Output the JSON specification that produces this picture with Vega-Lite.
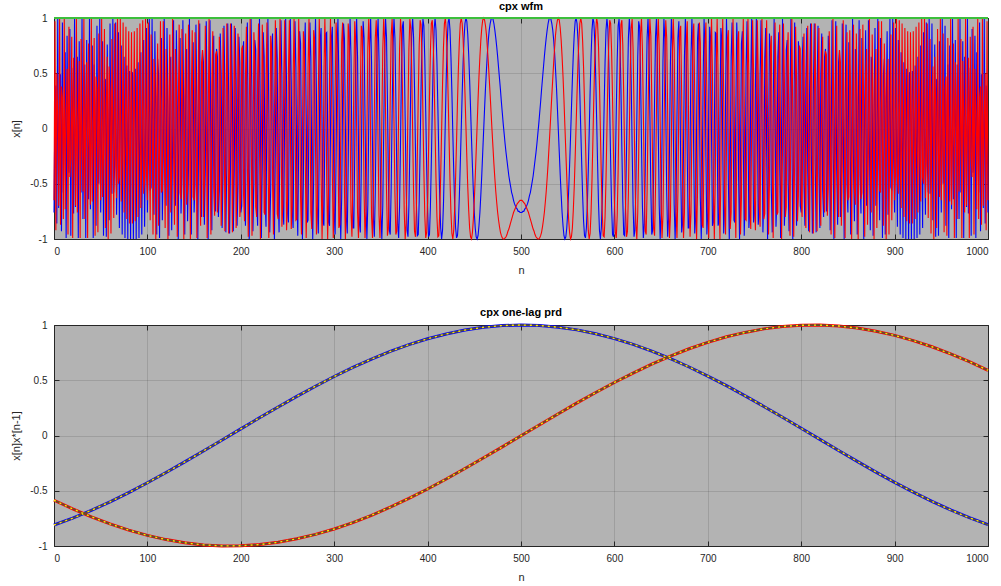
{
"$schema": "https://vega.github.io/schema/vega-lite/v6.json",
"background": "#ffffff",
"padding": {"left": 10, "right": 12, "top": 0, "bottom": 2},
"spacing": 30,
"config": {
  "view": {"fill": "#b3b3b3", "stroke": "#262626", "strokeWidth": 1},
  "font": "Liberation Sans",
  "axis": {"labelFont": "Liberation Sans", "labelFontSize": 10, "labelColor": "#262626", "titleFont": "Liberation Sans", "titleFontSize": 11, "titleFontWeight": "normal", "titleColor": "#262626", "tickColor": "#262626", "tickSize": -5, "labelPadding": 12, "titlePadding": 8, "domain": false, "gridColor": "#262626", "gridOpacity": 0.15, "gridWidth": 1},
  "title": {"font": "Liberation Sans", "fontSize": 11, "fontWeight": "bold", "color": "#000000", "offset": 1}
},
"datasets": {
"wfm": [
{"n":0,"re":-0.76,"im":-0.65},{"n":1,"re":0.23,"im":0.97},{"n":2,"re":0.39,"im":-0.92},{"n":3,"re":-0.86,"im":0.5},{"n":4,"re":0.99,"im":0.12},{"n":5,"re":-0.72,"im":-0.7},{"n":6,"re":0.15,"im":0.99},{"n":7,"re":0.49,"im":-0.87},{"n":8,"re":-0.93,"im":0.38},{"n":9,"re":0.96,"im":0.28},
{"n":10,"re":-0.58,"im":-0.82},{"n":11,"re":-0.07,"im":1},{"n":12,"re":0.69,"im":-0.73},{"n":13,"re":-0.99,"im":0.13},{"n":14,"re":0.84,"im":0.54},{"n":15,"re":-0.29,"im":-0.96},{"n":16,"re":-0.4,"im":0.92},{"n":17,"re":0.9,"im":-0.44},{"n":18,"re":-0.97,"im":-0.26},{"n":19,"re":0.55,"im":0.83},
{"n":20,"re":0.14,"im":-0.99},{"n":21,"re":-0.77,"im":0.64},{"n":22,"re":1,"im":0.04},{"n":23,"re":-0.71,"im":-0.7},{"n":24,"re":0.05,"im":1},{"n":25,"re":0.65,"im":-0.76},{"n":26,"re":-0.99,"im":0.11},{"n":27,"re":0.79,"im":0.61},{"n":28,"re":-0.15,"im":-0.99},{"n":29,"re":-0.58,"im":0.81},
{"n":30,"re":0.99,"im":-0.17},{"n":31,"re":-0.82,"im":-0.57},{"n":32,"re":0.17,"im":0.99},{"n":33,"re":0.58,"im":-0.82},{"n":34,"re":-0.99,"im":0.16},{"n":35,"re":0.8,"im":0.6},{"n":36,"re":-0.12,"im":-0.99},{"n":37,"re":-0.64,"im":0.77},{"n":38,"re":1,"im":-0.06},{"n":39,"re":-0.73,"im":-0.69},
{"n":40,"re":-0.02,"im":1},{"n":41,"re":0.75,"im":-0.66},{"n":42,"re":-0.99,"im":-0.11},{"n":43,"re":0.58,"im":0.82},{"n":44,"re":0.23,"im":-0.97},{"n":45,"re":-0.88,"im":0.47},{"n":46,"re":0.93,"im":0.36},{"n":47,"re":-0.33,"im":-0.94},{"n":48,"re":-0.5,"im":0.86},{"n":49,"re":0.99,"im":-0.17},
{"n":50,"re":-0.76,"im":-0.65},{"n":51,"re":-0.02,"im":1},{"n":52,"re":0.79,"im":-0.62},{"n":53,"re":-0.97,"im":-0.23},{"n":54,"re":0.43,"im":0.9},{"n":55,"re":0.44,"im":-0.9},{"n":56,"re":-0.98,"im":0.21},{"n":57,"re":0.76,"im":0.65},{"n":58,"re":0.05,"im":-1},{"n":59,"re":-0.83,"im":0.56},
{"n":60,"re":0.95,"im":0.32},{"n":61,"re":-0.3,"im":-0.95},{"n":62,"re":-0.59,"im":0.81},{"n":63,"re":1,"im":0},{"n":64,"re":-0.58,"im":-0.81},{"n":65,"re":-0.32,"im":0.95},{"n":66,"re":0.96,"im":-0.28},{"n":67,"re":-0.78,"im":-0.63},{"n":68,"re":-0.08,"im":1},{"n":69,"re":0.87,"im":-0.5},
{"n":70,"re":-0.9,"im":-0.44},{"n":71,"re":0.13,"im":0.99},{"n":72,"re":0.75,"im":-0.66},{"n":73,"re":-0.96,"im":-0.27},{"n":74,"re":0.29,"im":0.96},{"n":75,"re":0.65,"im":-0.76},{"n":76,"re":-0.99,"im":-0.14},{"n":77,"re":0.4,"im":0.92},{"n":78,"re":0.57,"im":-0.82},{"n":79,"re":-1,"im":-0.06},
{"n":80,"re":0.47,"im":0.88},{"n":81,"re":0.52,"im":-0.86},{"n":82,"re":-1,"im":-0.01},{"n":83,"re":0.49,"im":0.87},{"n":84,"re":0.51,"im":-0.86},{"n":85,"re":-1,"im":-0.02},{"n":86,"re":0.48,"im":0.88},{"n":87,"re":0.54,"im":-0.84},{"n":88,"re":-1,"im":-0.06},{"n":89,"re":0.42,"im":0.91},
{"n":90,"re":0.6,"im":-0.8},{"n":91,"re":-0.99,"im":-0.16},{"n":92,"re":0.32,"im":0.95},{"n":93,"re":0.69,"im":-0.72},{"n":94,"re":-0.96,"im":-0.29},{"n":95,"re":0.17,"im":0.98},{"n":96,"re":0.8,"im":-0.59},{"n":97,"re":-0.89,"im":-0.46},{"n":98,"re":-0.03,"im":1},{"n":99,"re":0.91,"im":-0.41},
{"n":100,"re":-0.76,"im":-0.65},{"n":101,"re":-0.27,"im":0.96},{"n":102,"re":0.99,"im":-0.16},{"n":103,"re":-0.56,"im":-0.83},{"n":104,"re":-0.53,"im":0.85},{"n":105,"re":0.99,"im":0.14},{"n":106,"re":-0.27,"im":-0.96},{"n":107,"re":-0.78,"im":0.63},{"n":108,"re":0.88,"im":0.47},{"n":109,"re":0.09,"im":-1},
{"n":110,"re":-0.96,"im":0.29},{"n":111,"re":0.63,"im":0.77},{"n":112,"re":0.48,"im":-0.88},{"n":113,"re":-0.99,"im":-0.13},{"n":114,"re":0.24,"im":0.97},{"n":115,"re":0.82,"im":-0.58},{"n":116,"re":-0.83,"im":-0.56},{"n":117,"re":-0.24,"im":0.97},{"n":118,"re":0.99,"im":-0.11},{"n":119,"re":-0.44,"im":-0.9},
{"n":120,"re":-0.7,"im":0.72},{"n":121,"re":0.91,"im":0.42},{"n":122,"re":0.1,"im":-1},{"n":123,"re":-0.97,"im":0.22},{"n":124,"re":0.52,"im":0.85},{"n":125,"re":0.65,"im":-0.76},{"n":126,"re":-0.92,"im":-0.39},{"n":127,"re":-0.09,"im":1},{"n":128,"re":0.98,"im":-0.21},{"n":129,"re":-0.49,"im":-0.87},
{"n":130,"re":-0.7,"im":0.72},{"n":131,"re":0.89,"im":0.47},{"n":132,"re":0.2,"im":-0.98},{"n":133,"re":-1,"im":0.08},{"n":134,"re":0.34,"im":0.94},{"n":135,"re":0.82,"im":-0.58},{"n":136,"re":-0.77,"im":-0.64},{"n":137,"re":-0.43,"im":0.9},{"n":138,"re":0.98,"im":0.19},{"n":139,"re":-0.06,"im":-1},
{"n":140,"re":-0.96,"im":0.29},{"n":141,"re":0.51,"im":0.86},{"n":142,"re":0.72,"im":-0.69},{"n":143,"re":-0.84,"im":-0.55},{"n":144,"re":-0.35,"im":0.94},{"n":145,"re":0.99,"im":0.14},{"n":146,"re":-0.07,"im":-1},{"n":147,"re":-0.96,"im":0.27},{"n":148,"re":0.46,"im":0.89},{"n":149,"re":0.78,"im":-0.62},
{"n":150,"re":-0.76,"im":-0.65},{"n":151,"re":-0.5,"im":0.87},{"n":152,"re":0.94,"im":0.33},{"n":153,"re":0.16,"im":-0.99},{"n":154,"re":-1,"im":0.01},{"n":155,"re":0.17,"im":0.98},{"n":156,"re":0.95,"im":-0.33},{"n":157,"re":-0.47,"im":-0.88},{"n":158,"re":-0.8,"im":0.6},{"n":159,"re":0.71,"im":0.71},
{"n":160,"re":0.6,"im":-0.8},{"n":161,"re":-0.87,"im":-0.49},{"n":162,"re":-0.37,"im":0.93},{"n":163,"re":0.97,"im":0.25},{"n":164,"re":0.13,"im":-0.99},{"n":165,"re":-1,"im":-0.02},{"n":166,"re":0.1,"im":1},{"n":167,"re":0.98,"im":-0.2},{"n":168,"re":-0.3,"im":-0.96},{"n":169,"re":-0.92,"im":0.39},
{"n":170,"re":0.47,"im":0.88},{"n":171,"re":0.84,"im":-0.54},{"n":172,"re":-0.61,"im":-0.79},{"n":173,"re":-0.75,"im":0.67},{"n":174,"re":0.72,"im":0.7},{"n":175,"re":0.65,"im":-0.76},{"n":176,"re":-0.8,"im":-0.6},{"n":177,"re":-0.56,"im":0.83},{"n":178,"re":0.86,"im":0.52},{"n":179,"re":0.48,"im":-0.88},
{"n":180,"re":-0.9,"im":-0.44},{"n":181,"re":-0.41,"im":0.91},{"n":182,"re":0.93,"im":0.38},{"n":183,"re":0.36,"im":-0.93},{"n":184,"re":-0.94,"im":-0.34},{"n":185,"re":-0.32,"im":0.95},{"n":186,"re":0.95,"im":0.31},{"n":187,"re":0.31,"im":-0.95},{"n":188,"re":-0.95,"im":-0.31},{"n":189,"re":-0.31,"im":0.95},
{"n":190,"re":0.95,"im":0.32},{"n":191,"re":0.34,"im":-0.94},{"n":192,"re":-0.93,"im":-0.36},{"n":193,"re":-0.38,"im":0.93},{"n":194,"re":0.91,"im":0.41},{"n":195,"re":0.44,"im":-0.9},{"n":196,"re":-0.88,"im":-0.48},{"n":197,"re":-0.52,"im":0.86},{"n":198,"re":0.83,"im":0.56},{"n":199,"re":0.6,"im":-0.8},
{"n":200,"re":-0.76,"im":-0.65},{"n":201,"re":-0.7,"im":0.72},{"n":202,"re":0.67,"im":0.75},{"n":203,"re":0.79,"im":-0.61},{"n":204,"re":-0.54,"im":-0.84},{"n":205,"re":-0.88,"im":0.47},{"n":206,"re":0.39,"im":0.92},{"n":207,"re":0.96,"im":-0.3},{"n":208,"re":-0.2,"im":-0.98},{"n":209,"re":-1,"im":0.1},
{"n":210,"re":-0.02,"im":1},{"n":211,"re":0.99,"im":0.13},{"n":212,"re":0.25,"im":-0.97},{"n":213,"re":-0.93,"im":-0.37},{"n":214,"re":-0.49,"im":0.87},{"n":215,"re":0.8,"im":0.6},{"n":216,"re":0.71,"im":-0.71},{"n":217,"re":-0.6,"im":-0.8},{"n":218,"re":-0.88,"im":0.47},{"n":219,"re":0.33,"im":0.95},
{"n":220,"re":0.99,"im":-0.17},{"n":221,"re":-0.01,"im":-1},{"n":222,"re":-0.99,"im":-0.16},{"n":223,"re":-0.33,"im":0.94},{"n":224,"re":0.87,"im":0.5},{"n":225,"re":0.65,"im":-0.76},{"n":226,"re":-0.62,"im":-0.78},{"n":227,"re":-0.89,"im":0.46},{"n":228,"re":0.27,"im":0.96},{"n":229,"re":1,"im":-0.07},
{"n":230,"re":0.14,"im":-0.99},{"n":231,"re":-0.94,"im":-0.35},{"n":232,"re":-0.55,"im":0.84},{"n":233,"re":0.69,"im":0.72},{"n":234,"re":0.86,"im":-0.51},{"n":235,"re":-0.29,"im":-0.96},{"n":236,"re":-1,"im":0.06},{"n":237,"re":-0.19,"im":0.98},{"n":238,"re":0.91,"im":0.43},{"n":239,"re":0.64,"im":-0.77},
{"n":240,"re":-0.58,"im":-0.82},{"n":241,"re":-0.94,"im":0.34},{"n":242,"re":0.08,"im":1},{"n":243,"re":0.98,"im":0.2},{"n":244,"re":0.47,"im":-0.89},{"n":245,"re":-0.72,"im":-0.7},{"n":246,"re":-0.87,"im":0.49},{"n":247,"re":0.21,"im":0.98},{"n":248,"re":1,"im":0.09},{"n":249,"re":0.39,"im":-0.92},
{"n":250,"re":-0.76,"im":-0.65},{"n":251,"re":-0.85,"im":0.52},{"n":252,"re":0.22,"im":0.98},{"n":253,"re":1,"im":0.1},{"n":254,"re":0.42,"im":-0.91},{"n":255,"re":-0.72,"im":-0.7},{"n":256,"re":-0.9,"im":0.44},{"n":257,"re":0.11,"im":0.99},{"n":258,"re":0.97,"im":0.24},{"n":259,"re":0.56,"im":-0.83},
{"n":260,"re":-0.58,"im":-0.82},{"n":261,"re":-0.97,"im":0.24},{"n":262,"re":-0.13,"im":0.99},{"n":263,"re":0.88,"im":0.48},{"n":264,"re":0.77,"im":-0.63},{"n":265,"re":-0.29,"im":-0.96},{"n":266,"re":-1,"im":-0.09},{"n":267,"re":-0.47,"im":0.88},{"n":268,"re":0.63,"im":0.78},{"n":269,"re":0.96,"im":-0.27},
{"n":270,"re":0.14,"im":-0.99},{"n":271,"re":-0.85,"im":-0.53},{"n":272,"re":-0.83,"im":0.56},{"n":273,"re":0.16,"im":0.99},{"n":274,"re":0.96,"im":0.27},{"n":275,"re":0.65,"im":-0.76},{"n":276,"re":-0.41,"im":-0.91},{"n":277,"re":-1,"im":-0.03},{"n":278,"re":-0.46,"im":0.89},{"n":279,"re":0.59,"im":0.81},
{"n":280,"re":0.99,"im":-0.17},{"n":281,"re":0.29,"im":-0.96},{"n":282,"re":-0.72,"im":-0.69},{"n":283,"re":-0.95,"im":0.32},{"n":284,"re":-0.16,"im":0.99},{"n":285,"re":0.8,"im":0.6},{"n":286,"re":0.91,"im":-0.42},{"n":287,"re":0.06,"im":-1},{"n":288,"re":-0.84,"im":-0.54},{"n":289,"re":-0.88,"im":0.48},
{"n":290,"re":-0.02,"im":1},{"n":291,"re":0.86,"im":0.51},{"n":292,"re":0.87,"im":-0.49},{"n":293,"re":0.01,"im":-1},{"n":294,"re":-0.85,"im":-0.52},{"n":295,"re":-0.88,"im":0.47},{"n":296,"re":-0.06,"im":1},{"n":297,"re":0.82,"im":0.57},{"n":298,"re":0.92,"im":-0.4},{"n":299,"re":0.14,"im":-0.99},
{"n":300,"re":-0.76,"im":-0.65},{"n":301,"re":-0.96,"im":0.29},{"n":302,"re":-0.27,"im":0.96},{"n":303,"re":0.66,"im":0.76},{"n":304,"re":0.99,"im":-0.13},{"n":305,"re":0.44,"im":-0.9},{"n":306,"re":-0.5,"im":-0.87},{"n":307,"re":-1,"im":-0.08},{"n":308,"re":-0.63,"im":0.78},{"n":309,"re":0.28,"im":0.96},
{"n":310,"re":0.95,"im":0.32},{"n":311,"re":0.81,"im":-0.58},{"n":312,"re":0,"im":-1},{"n":313,"re":-0.81,"im":-0.59},{"n":314,"re":-0.95,"im":0.3},{"n":315,"re":-0.32,"im":0.95},{"n":316,"re":0.56,"im":0.83},{"n":317,"re":1,"im":0.05},{"n":318,"re":0.65,"im":-0.76},{"n":319,"re":-0.21,"im":-0.98},
{"n":320,"re":-0.9,"im":-0.44},{"n":321,"re":-0.9,"im":0.43},{"n":322,"re":-0.23,"im":0.97},{"n":323,"re":0.62,"im":0.79},{"n":324,"re":1,"im":0.02},{"n":325,"re":0.65,"im":-0.76},{"n":326,"re":-0.17,"im":-0.99},{"n":327,"re":-0.86,"im":-0.5},{"n":328,"re":-0.94,"im":0.33},{"n":329,"re":-0.36,"im":0.93},
{"n":330,"re":0.47,"im":0.88},{"n":331,"re":0.97,"im":0.23},{"n":332,"re":0.82,"im":-0.58},{"n":333,"re":0.11,"im":-0.99},{"n":334,"re":-0.66,"im":-0.75},{"n":335,"re":-1,"im":-0.02},{"n":336,"re":-0.69,"im":0.73},{"n":337,"re":0.06,"im":1},{"n":338,"re":0.77,"im":0.64},{"n":339,"re":0.99,"im":-0.12},
{"n":340,"re":0.6,"im":-0.8},{"n":341,"re":-0.16,"im":-0.99},{"n":342,"re":-0.82,"im":-0.58},{"n":343,"re":-0.98,"im":0.17},{"n":344,"re":-0.57,"im":0.82},{"n":345,"re":0.17,"im":0.98},{"n":346,"re":0.81,"im":0.58},{"n":347,"re":0.99,"im":-0.15},{"n":348,"re":0.61,"im":-0.79},{"n":349,"re":-0.11,"im":-0.99},
{"n":350,"re":-0.76,"im":-0.65},{"n":351,"re":-1,"im":0.05},{"n":352,"re":-0.7,"im":0.71},{"n":353,"re":-0.04,"im":1},{"n":354,"re":0.64,"im":0.77},{"n":355,"re":0.99,"im":0.14},{"n":356,"re":0.83,"im":-0.55},{"n":357,"re":0.26,"im":-0.97},{"n":358,"re":-0.44,"im":-0.9},{"n":359,"re":-0.92,"im":-0.4},
{"n":360,"re":-0.96,"im":0.29},{"n":361,"re":-0.54,"im":0.84},{"n":362,"re":0.13,"im":0.99},{"n":363,"re":0.73,"im":0.69},{"n":364,"re":1,"im":0.07},{"n":365,"re":0.82,"im":-0.58},{"n":366,"re":0.28,"im":-0.96},{"n":367,"re":-0.38,"im":-0.93},{"n":368,"re":-0.87,"im":-0.49},{"n":369,"re":-0.99,"im":0.15},
{"n":370,"re":-0.7,"im":0.72},{"n":371,"re":-0.12,"im":0.99},{"n":372,"re":0.5,"im":0.86},{"n":373,"re":0.92,"im":0.39},{"n":374,"re":0.97,"im":-0.23},{"n":375,"re":0.65,"im":-0.76},{"n":376,"re":0.08,"im":-1},{"n":377,"re":-0.51,"im":-0.86},{"n":378,"re":-0.92,"im":-0.4},{"n":379,"re":-0.98,"im":0.19},
{"n":380,"re":-0.7,"im":0.72},{"n":381,"re":-0.17,"im":0.99},{"n":382,"re":0.41,"im":0.91},{"n":383,"re":0.85,"im":0.53},{"n":384,"re":1,"im":-0.03},{"n":385,"re":0.82,"im":-0.58},{"n":386,"re":0.37,"im":-0.93},{"n":387,"re":-0.19,"im":-0.98},{"n":388,"re":-0.68,"im":-0.73},{"n":389,"re":-0.97,"im":-0.25},
{"n":390,"re":-0.96,"im":0.29},{"n":391,"re":-0.66,"im":0.75},{"n":392,"re":-0.18,"im":0.98},{"n":393,"re":0.36,"im":0.94},{"n":394,"re":0.78,"im":0.62},{"n":395,"re":0.99,"im":0.14},{"n":396,"re":0.93,"im":-0.38},{"n":397,"re":0.62,"im":-0.79},{"n":398,"re":0.15,"im":-0.99},{"n":399,"re":-0.35,"im":-0.94},
{"n":400,"re":-0.76,"im":-0.65},{"n":401,"re":-0.98,"im":-0.21},{"n":402,"re":-0.96,"im":0.28},{"n":403,"re":-0.71,"im":0.7},{"n":404,"re":-0.3,"im":0.95},{"n":405,"re":0.17,"im":0.98},{"n":406,"re":0.6,"im":0.8},{"n":407,"re":0.9,"im":0.44},{"n":408,"re":1,"im":-0.01},{"n":409,"re":0.89,"im":-0.46},
{"n":410,"re":0.6,"im":-0.8},{"n":411,"re":0.19,"im":-0.98},{"n":412,"re":-0.25,"im":-0.97},{"n":413,"re":-0.64,"im":-0.77},{"n":414,"re":-0.9,"im":-0.43},{"n":415,"re":-1,"im":-0.02},{"n":416,"re":-0.92,"im":0.4},{"n":417,"re":-0.68,"im":0.74},{"n":418,"re":-0.32,"im":0.95},{"n":419,"re":0.08,"im":1},
{"n":420,"re":0.47,"im":0.88},{"n":421,"re":0.78,"im":0.63},{"n":422,"re":0.96,"im":0.29},{"n":423,"re":1,"im":-0.1},{"n":424,"re":0.89,"im":-0.47},{"n":425,"re":0.65,"im":-0.76},{"n":426,"re":0.33,"im":-0.95},{"n":427,"re":-0.04,"im":-1},{"n":428,"re":-0.39,"im":-0.92},{"n":429,"re":-0.69,"im":-0.72},
{"n":430,"re":-0.9,"im":-0.44},{"n":431,"re":-0.99,"im":-0.11},{"n":432,"re":-0.97,"im":0.24},{"n":433,"re":-0.84,"im":0.55},{"n":434,"re":-0.61,"im":0.79},{"n":435,"re":-0.32,"im":0.95},{"n":436,"re":-0.01,"im":1},{"n":437,"re":0.31,"im":0.95},{"n":438,"re":0.59,"im":0.81},{"n":439,"re":0.81,"im":0.59},
{"n":440,"re":0.95,"im":0.32},{"n":441,"re":1,"im":0.03},{"n":442,"re":0.97,"im":-0.26},{"n":443,"re":0.85,"im":-0.53},{"n":444,"re":0.67,"im":-0.74},{"n":445,"re":0.44,"im":-0.9},{"n":446,"re":0.18,"im":-0.98},{"n":447,"re":-0.09,"im":-1},{"n":448,"re":-0.34,"im":-0.94},{"n":449,"re":-0.57,"im":-0.82},
{"n":450,"re":-0.76,"im":-0.65},{"n":451,"re":-0.9,"im":-0.44},{"n":452,"re":-0.98,"im":-0.21},{"n":453,"re":-1,"im":0.02},{"n":454,"re":-0.97,"im":0.26},{"n":455,"re":-0.88,"im":0.47},{"n":456,"re":-0.76,"im":0.65},{"n":457,"re":-0.6,"im":0.8},{"n":458,"re":-0.42,"im":0.91},{"n":459,"re":-0.22,"im":0.98},
{"n":460,"re":-0.02,"im":1},{"n":461,"re":0.18,"im":0.98},{"n":462,"re":0.37,"im":0.93},{"n":463,"re":0.53,"im":0.85},{"n":464,"re":0.68,"im":0.73},{"n":465,"re":0.8,"im":0.6},{"n":466,"re":0.89,"im":0.45},{"n":467,"re":0.95,"im":0.3},{"n":468,"re":0.99,"im":0.14},{"n":469,"re":1,"im":-0.02},
{"n":470,"re":0.99,"im":-0.17},{"n":471,"re":0.95,"im":-0.32},{"n":472,"re":0.89,"im":-0.45},{"n":473,"re":0.82,"im":-0.57},{"n":474,"re":0.74,"im":-0.67},{"n":475,"re":0.65,"im":-0.76},{"n":476,"re":0.55,"im":-0.83},{"n":477,"re":0.45,"im":-0.89},{"n":478,"re":0.35,"im":-0.94},{"n":479,"re":0.24,"im":-0.97},
{"n":480,"re":0.14,"im":-0.99},{"n":481,"re":0.04,"im":-1},{"n":482,"re":-0.05,"im":-1},{"n":483,"re":-0.14,"im":-0.99},{"n":484,"re":-0.22,"im":-0.98},{"n":485,"re":-0.29,"im":-0.96},{"n":486,"re":-0.36,"im":-0.93},{"n":487,"re":-0.43,"im":-0.91},{"n":488,"re":-0.48,"im":-0.88},{"n":489,"re":-0.53,"im":-0.85},
{"n":490,"re":-0.58,"im":-0.82},{"n":491,"re":-0.61,"im":-0.79},{"n":492,"re":-0.65,"im":-0.76},{"n":493,"re":-0.68,"im":-0.74},{"n":494,"re":-0.7,"im":-0.72},{"n":495,"re":-0.72,"im":-0.7},{"n":496,"re":-0.73,"im":-0.68},{"n":497,"re":-0.75,"im":-0.67},{"n":498,"re":-0.75,"im":-0.66},{"n":499,"re":-0.76,"im":-0.65},
{"n":500,"re":-0.76,"im":-0.65},
{"n":501,"re":-0.76,"im":-0.65},{"n":502,"re":-0.75,"im":-0.66},{"n":503,"re":-0.75,"im":-0.67},{"n":504,"re":-0.73,"im":-0.68},{"n":505,"re":-0.72,"im":-0.7},{"n":506,"re":-0.7,"im":-0.72},{"n":507,"re":-0.68,"im":-0.74},{"n":508,"re":-0.65,"im":-0.76},{"n":509,"re":-0.61,"im":-0.79},{"n":510,"re":-0.58,"im":-0.82},
{"n":511,"re":-0.53,"im":-0.85},{"n":512,"re":-0.48,"im":-0.88},{"n":513,"re":-0.43,"im":-0.91},{"n":514,"re":-0.36,"im":-0.93},{"n":515,"re":-0.29,"im":-0.96},{"n":516,"re":-0.22,"im":-0.98},{"n":517,"re":-0.14,"im":-0.99},{"n":518,"re":-0.05,"im":-1},{"n":519,"re":0.04,"im":-1},{"n":520,"re":0.14,"im":-0.99},
{"n":521,"re":0.24,"im":-0.97},{"n":522,"re":0.35,"im":-0.94},{"n":523,"re":0.45,"im":-0.89},{"n":524,"re":0.55,"im":-0.83},{"n":525,"re":0.65,"im":-0.76},{"n":526,"re":0.74,"im":-0.67},{"n":527,"re":0.82,"im":-0.57},{"n":528,"re":0.89,"im":-0.45},{"n":529,"re":0.95,"im":-0.32},{"n":530,"re":0.99,"im":-0.17},
{"n":531,"re":1,"im":-0.02},{"n":532,"re":0.99,"im":0.14},{"n":533,"re":0.95,"im":0.3},{"n":534,"re":0.89,"im":0.45},{"n":535,"re":0.8,"im":0.6},{"n":536,"re":0.68,"im":0.73},{"n":537,"re":0.53,"im":0.85},{"n":538,"re":0.37,"im":0.93},{"n":539,"re":0.18,"im":0.98},{"n":540,"re":-0.02,"im":1},
{"n":541,"re":-0.22,"im":0.98},{"n":542,"re":-0.42,"im":0.91},{"n":543,"re":-0.6,"im":0.8},{"n":544,"re":-0.76,"im":0.65},{"n":545,"re":-0.88,"im":0.47},{"n":546,"re":-0.97,"im":0.26},{"n":547,"re":-1,"im":0.02},{"n":548,"re":-0.98,"im":-0.21},{"n":549,"re":-0.9,"im":-0.44},{"n":550,"re":-0.76,"im":-0.65},
{"n":551,"re":-0.57,"im":-0.82},{"n":552,"re":-0.34,"im":-0.94},{"n":553,"re":-0.09,"im":-1},{"n":554,"re":0.18,"im":-0.98},{"n":555,"re":0.44,"im":-0.9},{"n":556,"re":0.67,"im":-0.74},{"n":557,"re":0.85,"im":-0.53},{"n":558,"re":0.97,"im":-0.26},{"n":559,"re":1,"im":0.03},{"n":560,"re":0.95,"im":0.32},
{"n":561,"re":0.81,"im":0.59},{"n":562,"re":0.59,"im":0.81},{"n":563,"re":0.31,"im":0.95},{"n":564,"re":-0.01,"im":1},{"n":565,"re":-0.32,"im":0.95},{"n":566,"re":-0.61,"im":0.79},{"n":567,"re":-0.84,"im":0.55},{"n":568,"re":-0.97,"im":0.24},{"n":569,"re":-0.99,"im":-0.11},{"n":570,"re":-0.9,"im":-0.44},
{"n":571,"re":-0.69,"im":-0.72},{"n":572,"re":-0.39,"im":-0.92},{"n":573,"re":-0.04,"im":-1},{"n":574,"re":0.33,"im":-0.95},{"n":575,"re":0.65,"im":-0.76},{"n":576,"re":0.89,"im":-0.47},{"n":577,"re":1,"im":-0.1},{"n":578,"re":0.96,"im":0.29},{"n":579,"re":0.78,"im":0.63},{"n":580,"re":0.47,"im":0.88},
{"n":581,"re":0.08,"im":1},{"n":582,"re":-0.32,"im":0.95},{"n":583,"re":-0.68,"im":0.74},{"n":584,"re":-0.92,"im":0.4},{"n":585,"re":-1,"im":-0.02},{"n":586,"re":-0.9,"im":-0.43},{"n":587,"re":-0.64,"im":-0.77},{"n":588,"re":-0.25,"im":-0.97},{"n":589,"re":0.19,"im":-0.98},{"n":590,"re":0.6,"im":-0.8},
{"n":591,"re":0.89,"im":-0.46},{"n":592,"re":1,"im":-0.01},{"n":593,"re":0.9,"im":0.44},{"n":594,"re":0.6,"im":0.8},{"n":595,"re":0.17,"im":0.98},{"n":596,"re":-0.3,"im":0.95},{"n":597,"re":-0.71,"im":0.7},{"n":598,"re":-0.96,"im":0.28},{"n":599,"re":-0.98,"im":-0.21},{"n":600,"re":-0.76,"im":-0.65},
{"n":601,"re":-0.35,"im":-0.94},{"n":602,"re":0.15,"im":-0.99},{"n":603,"re":0.62,"im":-0.79},{"n":604,"re":0.93,"im":-0.38},{"n":605,"re":0.99,"im":0.14},{"n":606,"re":0.78,"im":0.62},{"n":607,"re":0.36,"im":0.94},{"n":608,"re":-0.18,"im":0.98},{"n":609,"re":-0.66,"im":0.75},{"n":610,"re":-0.96,"im":0.29},
{"n":611,"re":-0.97,"im":-0.25},{"n":612,"re":-0.68,"im":-0.73},{"n":613,"re":-0.19,"im":-0.98},{"n":614,"re":0.37,"im":-0.93},{"n":615,"re":0.82,"im":-0.58},{"n":616,"re":1,"im":-0.03},{"n":617,"re":0.85,"im":0.53},{"n":618,"re":0.41,"im":0.91},{"n":619,"re":-0.17,"im":0.99},{"n":620,"re":-0.7,"im":0.72},
{"n":621,"re":-0.98,"im":0.19},{"n":622,"re":-0.92,"im":-0.4},{"n":623,"re":-0.51,"im":-0.86},{"n":624,"re":0.08,"im":-1},{"n":625,"re":0.65,"im":-0.76},{"n":626,"re":0.97,"im":-0.23},{"n":627,"re":0.92,"im":0.39},{"n":628,"re":0.5,"im":0.86},{"n":629,"re":-0.12,"im":0.99},{"n":630,"re":-0.7,"im":0.72},
{"n":631,"re":-0.99,"im":0.15},{"n":632,"re":-0.87,"im":-0.49},{"n":633,"re":-0.38,"im":-0.93},{"n":634,"re":0.28,"im":-0.96},{"n":635,"re":0.82,"im":-0.58},{"n":636,"re":1,"im":0.07},{"n":637,"re":0.73,"im":0.69},{"n":638,"re":0.13,"im":0.99},{"n":639,"re":-0.54,"im":0.84},{"n":640,"re":-0.96,"im":0.29},
{"n":641,"re":-0.92,"im":-0.4},{"n":642,"re":-0.44,"im":-0.9},{"n":643,"re":0.26,"im":-0.97},{"n":644,"re":0.83,"im":-0.55},{"n":645,"re":0.99,"im":0.14},{"n":646,"re":0.64,"im":0.77},{"n":647,"re":-0.04,"im":1},{"n":648,"re":-0.7,"im":0.71},{"n":649,"re":-1,"im":0.05},{"n":650,"re":-0.76,"im":-0.65},
{"n":651,"re":-0.11,"im":-0.99},{"n":652,"re":0.61,"im":-0.79},{"n":653,"re":0.99,"im":-0.15},{"n":654,"re":0.81,"im":0.58},{"n":655,"re":0.17,"im":0.98},{"n":656,"re":-0.57,"im":0.82},{"n":657,"re":-0.98,"im":0.17},{"n":658,"re":-0.82,"im":-0.58},{"n":659,"re":-0.16,"im":-0.99},{"n":660,"re":0.6,"im":-0.8},
{"n":661,"re":0.99,"im":-0.12},{"n":662,"re":0.77,"im":0.64},{"n":663,"re":0.06,"im":1},{"n":664,"re":-0.69,"im":0.73},{"n":665,"re":-1,"im":-0.02},{"n":666,"re":-0.66,"im":-0.75},{"n":667,"re":0.11,"im":-0.99},{"n":668,"re":0.82,"im":-0.58},{"n":669,"re":0.97,"im":0.23},{"n":670,"re":0.47,"im":0.88},
{"n":671,"re":-0.36,"im":0.93},{"n":672,"re":-0.94,"im":0.33},{"n":673,"re":-0.86,"im":-0.5},{"n":674,"re":-0.17,"im":-0.99},{"n":675,"re":0.65,"im":-0.76},{"n":676,"re":1,"im":0.02},{"n":677,"re":0.62,"im":0.79},{"n":678,"re":-0.23,"im":0.97},{"n":679,"re":-0.9,"im":0.43},{"n":680,"re":-0.9,"im":-0.44},
{"n":681,"re":-0.21,"im":-0.98},{"n":682,"re":0.65,"im":-0.76},{"n":683,"re":1,"im":0.05},{"n":684,"re":0.56,"im":0.83},{"n":685,"re":-0.32,"im":0.95},{"n":686,"re":-0.95,"im":0.3},{"n":687,"re":-0.81,"im":-0.59},{"n":688,"re":0,"im":-1},{"n":689,"re":0.81,"im":-0.58},{"n":690,"re":0.95,"im":0.32},
{"n":691,"re":0.28,"im":0.96},{"n":692,"re":-0.63,"im":0.78},{"n":693,"re":-1,"im":-0.08},{"n":694,"re":-0.5,"im":-0.87},{"n":695,"re":0.44,"im":-0.9},{"n":696,"re":0.99,"im":-0.13},{"n":697,"re":0.66,"im":0.76},{"n":698,"re":-0.27,"im":0.96},{"n":699,"re":-0.96,"im":0.29},{"n":700,"re":-0.76,"im":-0.65},
{"n":701,"re":0.14,"im":-0.99},{"n":702,"re":0.92,"im":-0.4},{"n":703,"re":0.82,"im":0.57},{"n":704,"re":-0.06,"im":1},{"n":705,"re":-0.88,"im":0.47},{"n":706,"re":-0.85,"im":-0.52},{"n":707,"re":0.01,"im":-1},{"n":708,"re":0.87,"im":-0.49},{"n":709,"re":0.86,"im":0.51},{"n":710,"re":-0.02,"im":1},
{"n":711,"re":-0.88,"im":0.48},{"n":712,"re":-0.84,"im":-0.54},{"n":713,"re":0.06,"im":-1},{"n":714,"re":0.91,"im":-0.42},{"n":715,"re":0.8,"im":0.6},{"n":716,"re":-0.16,"im":0.99},{"n":717,"re":-0.95,"im":0.32},{"n":718,"re":-0.72,"im":-0.69},{"n":719,"re":0.29,"im":-0.96},{"n":720,"re":0.99,"im":-0.17},
{"n":721,"re":0.59,"im":0.81},{"n":722,"re":-0.46,"im":0.89},{"n":723,"re":-1,"im":-0.03},{"n":724,"re":-0.41,"im":-0.91},{"n":725,"re":0.65,"im":-0.76},{"n":726,"re":0.96,"im":0.27},{"n":727,"re":0.16,"im":0.99},{"n":728,"re":-0.83,"im":0.56},{"n":729,"re":-0.85,"im":-0.53},{"n":730,"re":0.14,"im":-0.99},
{"n":731,"re":0.96,"im":-0.27},{"n":732,"re":0.63,"im":0.78},{"n":733,"re":-0.47,"im":0.88},{"n":734,"re":-1,"im":-0.09},{"n":735,"re":-0.29,"im":-0.96},{"n":736,"re":0.77,"im":-0.63},{"n":737,"re":0.88,"im":0.48},{"n":738,"re":-0.13,"im":0.99},{"n":739,"re":-0.97,"im":0.24},{"n":740,"re":-0.58,"im":-0.82},
{"n":741,"re":0.56,"im":-0.83},{"n":742,"re":0.97,"im":0.24},{"n":743,"re":0.11,"im":0.99},{"n":744,"re":-0.9,"im":0.44},{"n":745,"re":-0.72,"im":-0.7},{"n":746,"re":0.42,"im":-0.91},{"n":747,"re":1,"im":0.1},{"n":748,"re":0.22,"im":0.98},{"n":749,"re":-0.85,"im":0.52},{"n":750,"re":-0.76,"im":-0.65},
{"n":751,"re":0.39,"im":-0.92},{"n":752,"re":1,"im":0.09},{"n":753,"re":0.21,"im":0.98},{"n":754,"re":-0.87,"im":0.49},{"n":755,"re":-0.72,"im":-0.7},{"n":756,"re":0.47,"im":-0.89},{"n":757,"re":0.98,"im":0.2},{"n":758,"re":0.08,"im":1},{"n":759,"re":-0.94,"im":0.34},{"n":760,"re":-0.58,"im":-0.82},
{"n":761,"re":0.64,"im":-0.77},{"n":762,"re":0.91,"im":0.43},{"n":763,"re":-0.19,"im":0.98},{"n":764,"re":-1,"im":0.06},{"n":765,"re":-0.29,"im":-0.96},{"n":766,"re":0.86,"im":-0.51},{"n":767,"re":0.69,"im":0.72},{"n":768,"re":-0.55,"im":0.84},{"n":769,"re":-0.94,"im":-0.35},{"n":770,"re":0.14,"im":-0.99},
{"n":771,"re":1,"im":-0.07},{"n":772,"re":0.27,"im":0.96},{"n":773,"re":-0.89,"im":0.46},{"n":774,"re":-0.62,"im":-0.78},{"n":775,"re":0.65,"im":-0.76},{"n":776,"re":0.87,"im":0.5},{"n":777,"re":-0.33,"im":0.94},{"n":778,"re":-0.99,"im":-0.16},{"n":779,"re":-0.01,"im":-1},{"n":780,"re":0.99,"im":-0.17},
{"n":781,"re":0.33,"im":0.95},{"n":782,"re":-0.88,"im":0.47},{"n":783,"re":-0.6,"im":-0.8},{"n":784,"re":0.71,"im":-0.71},{"n":785,"re":0.8,"im":0.6},{"n":786,"re":-0.49,"im":0.87},{"n":787,"re":-0.93,"im":-0.37},{"n":788,"re":0.25,"im":-0.97},{"n":789,"re":0.99,"im":0.13},{"n":790,"re":-0.02,"im":1},
{"n":791,"re":-1,"im":0.1},{"n":792,"re":-0.2,"im":-0.98},{"n":793,"re":0.96,"im":-0.3},{"n":794,"re":0.39,"im":0.92},{"n":795,"re":-0.88,"im":0.47},{"n":796,"re":-0.54,"im":-0.84},{"n":797,"re":0.79,"im":-0.61},{"n":798,"re":0.67,"im":0.75},{"n":799,"re":-0.7,"im":0.72},{"n":800,"re":-0.76,"im":-0.65},
{"n":801,"re":0.6,"im":-0.8},{"n":802,"re":0.83,"im":0.56},{"n":803,"re":-0.52,"im":0.86},{"n":804,"re":-0.88,"im":-0.48},{"n":805,"re":0.44,"im":-0.9},{"n":806,"re":0.91,"im":0.41},{"n":807,"re":-0.38,"im":0.93},{"n":808,"re":-0.93,"im":-0.36},{"n":809,"re":0.34,"im":-0.94},{"n":810,"re":0.95,"im":0.32},
{"n":811,"re":-0.31,"im":0.95},{"n":812,"re":-0.95,"im":-0.31},{"n":813,"re":0.31,"im":-0.95},{"n":814,"re":0.95,"im":0.31},{"n":815,"re":-0.32,"im":0.95},{"n":816,"re":-0.94,"im":-0.34},{"n":817,"re":0.36,"im":-0.93},{"n":818,"re":0.93,"im":0.38},{"n":819,"re":-0.41,"im":0.91},{"n":820,"re":-0.9,"im":-0.44},
{"n":821,"re":0.48,"im":-0.88},{"n":822,"re":0.86,"im":0.52},{"n":823,"re":-0.56,"im":0.83},{"n":824,"re":-0.8,"im":-0.6},{"n":825,"re":0.65,"im":-0.76},{"n":826,"re":0.72,"im":0.7},{"n":827,"re":-0.75,"im":0.67},{"n":828,"re":-0.61,"im":-0.79},{"n":829,"re":0.84,"im":-0.54},{"n":830,"re":0.47,"im":0.88},
{"n":831,"re":-0.92,"im":0.39},{"n":832,"re":-0.3,"im":-0.96},{"n":833,"re":0.98,"im":-0.2},{"n":834,"re":0.1,"im":1},{"n":835,"re":-1,"im":-0.02},{"n":836,"re":0.13,"im":-0.99},{"n":837,"re":0.97,"im":0.25},{"n":838,"re":-0.37,"im":0.93},{"n":839,"re":-0.87,"im":-0.49},{"n":840,"re":0.6,"im":-0.8},
{"n":841,"re":0.71,"im":0.71},{"n":842,"re":-0.8,"im":0.6},{"n":843,"re":-0.47,"im":-0.88},{"n":844,"re":0.95,"im":-0.33},{"n":845,"re":0.17,"im":0.98},{"n":846,"re":-1,"im":0.01},{"n":847,"re":0.16,"im":-0.99},{"n":848,"re":0.94,"im":0.33},{"n":849,"re":-0.5,"im":0.87},{"n":850,"re":-0.76,"im":-0.65},
{"n":851,"re":0.78,"im":-0.62},{"n":852,"re":0.46,"im":0.89},{"n":853,"re":-0.96,"im":0.27},{"n":854,"re":-0.07,"im":-1},{"n":855,"re":0.99,"im":0.14},{"n":856,"re":-0.35,"im":0.94},{"n":857,"re":-0.84,"im":-0.55},{"n":858,"re":0.72,"im":-0.69},{"n":859,"re":0.51,"im":0.86},{"n":860,"re":-0.96,"im":0.29},
{"n":861,"re":-0.06,"im":-1},{"n":862,"re":0.98,"im":0.19},{"n":863,"re":-0.43,"im":0.9},{"n":864,"re":-0.77,"im":-0.64},{"n":865,"re":0.82,"im":-0.58},{"n":866,"re":0.34,"im":0.94},{"n":867,"re":-1,"im":0.08},{"n":868,"re":0.2,"im":-0.98},{"n":869,"re":0.89,"im":0.47},{"n":870,"re":-0.7,"im":0.72},
{"n":871,"re":-0.49,"im":-0.87},{"n":872,"re":0.98,"im":-0.21},{"n":873,"re":-0.09,"im":1},{"n":874,"re":-0.92,"im":-0.39},{"n":875,"re":0.65,"im":-0.76},{"n":876,"re":0.52,"im":0.85},{"n":877,"re":-0.97,"im":0.22},{"n":878,"re":0.1,"im":-1},{"n":879,"re":0.91,"im":0.42},{"n":880,"re":-0.7,"im":0.72},
{"n":881,"re":-0.44,"im":-0.9},{"n":882,"re":0.99,"im":-0.11},{"n":883,"re":-0.24,"im":0.97},{"n":884,"re":-0.83,"im":-0.56},{"n":885,"re":0.82,"im":-0.58},{"n":886,"re":0.24,"im":0.97},{"n":887,"re":-0.99,"im":-0.13},{"n":888,"re":0.48,"im":-0.88},{"n":889,"re":0.63,"im":0.77},{"n":890,"re":-0.96,"im":0.29},
{"n":891,"re":0.09,"im":-1},{"n":892,"re":0.88,"im":0.47},{"n":893,"re":-0.78,"im":0.63},{"n":894,"re":-0.27,"im":-0.96},{"n":895,"re":0.99,"im":0.14},{"n":896,"re":-0.53,"im":0.85},{"n":897,"re":-0.56,"im":-0.83},{"n":898,"re":0.99,"im":-0.16},{"n":899,"re":-0.27,"im":0.96},{"n":900,"re":-0.76,"im":-0.65},
{"n":901,"re":0.91,"im":-0.41},{"n":902,"re":-0.03,"im":1},{"n":903,"re":-0.89,"im":-0.46},{"n":904,"re":0.8,"im":-0.59},{"n":905,"re":0.17,"im":0.98},{"n":906,"re":-0.96,"im":-0.29},{"n":907,"re":0.69,"im":-0.72},{"n":908,"re":0.32,"im":0.95},{"n":909,"re":-0.99,"im":-0.16},{"n":910,"re":0.6,"im":-0.8},
{"n":911,"re":0.42,"im":0.91},{"n":912,"re":-1,"im":-0.06},{"n":913,"re":0.54,"im":-0.84},{"n":914,"re":0.48,"im":0.88},{"n":915,"re":-1,"im":-0.02},{"n":916,"re":0.51,"im":-0.86},{"n":917,"re":0.49,"im":0.87},{"n":918,"re":-1,"im":-0.01},{"n":919,"re":0.52,"im":-0.86},{"n":920,"re":0.47,"im":0.88},
{"n":921,"re":-1,"im":-0.06},{"n":922,"re":0.57,"im":-0.82},{"n":923,"re":0.4,"im":0.92},{"n":924,"re":-0.99,"im":-0.14},{"n":925,"re":0.65,"im":-0.76},{"n":926,"re":0.29,"im":0.96},{"n":927,"re":-0.96,"im":-0.27},{"n":928,"re":0.75,"im":-0.66},{"n":929,"re":0.13,"im":0.99},{"n":930,"re":-0.9,"im":-0.44},
{"n":931,"re":0.87,"im":-0.5},{"n":932,"re":-0.08,"im":1},{"n":933,"re":-0.78,"im":-0.63},{"n":934,"re":0.96,"im":-0.28},{"n":935,"re":-0.32,"im":0.95},{"n":936,"re":-0.58,"im":-0.81},{"n":937,"re":1,"im":0},{"n":938,"re":-0.59,"im":0.81},{"n":939,"re":-0.3,"im":-0.95},{"n":940,"re":0.95,"im":0.32},
{"n":941,"re":-0.83,"im":0.56},{"n":942,"re":0.05,"im":-1},{"n":943,"re":0.76,"im":0.65},{"n":944,"re":-0.98,"im":0.21},{"n":945,"re":0.44,"im":-0.9},{"n":946,"re":0.43,"im":0.9},{"n":947,"re":-0.97,"im":-0.23},{"n":948,"re":0.79,"im":-0.62},{"n":949,"re":-0.02,"im":1},{"n":950,"re":-0.76,"im":-0.65},
{"n":951,"re":0.99,"im":-0.17},{"n":952,"re":-0.5,"im":0.86},{"n":953,"re":-0.33,"im":-0.94},{"n":954,"re":0.93,"im":0.36},{"n":955,"re":-0.88,"im":0.47},{"n":956,"re":0.23,"im":-0.97},{"n":957,"re":0.58,"im":0.82},{"n":958,"re":-0.99,"im":-0.11},{"n":959,"re":0.75,"im":-0.66},{"n":960,"re":-0.02,"im":1},
{"n":961,"re":-0.73,"im":-0.69},{"n":962,"re":1,"im":-0.06},{"n":963,"re":-0.64,"im":0.77},{"n":964,"re":-0.12,"im":-0.99},{"n":965,"re":0.8,"im":0.6},{"n":966,"re":-0.99,"im":0.16},{"n":967,"re":0.58,"im":-0.82},{"n":968,"re":0.17,"im":0.99},{"n":969,"re":-0.82,"im":-0.57},{"n":970,"re":0.99,"im":-0.17},
{"n":971,"re":-0.58,"im":0.81},{"n":972,"re":-0.15,"im":-0.99},{"n":973,"re":0.79,"im":0.61},{"n":974,"re":-0.99,"im":0.11},{"n":975,"re":0.65,"im":-0.76},{"n":976,"re":0.05,"im":1},{"n":977,"re":-0.71,"im":-0.7},{"n":978,"re":1,"im":0.04},{"n":979,"re":-0.77,"im":0.64},{"n":980,"re":0.14,"im":-0.99},
{"n":981,"re":0.55,"im":0.83},{"n":982,"re":-0.97,"im":-0.26},{"n":983,"re":0.9,"im":-0.44},{"n":984,"re":-0.4,"im":0.92},{"n":985,"re":-0.29,"im":-0.96},{"n":986,"re":0.84,"im":0.54},{"n":987,"re":-0.99,"im":0.13},{"n":988,"re":0.69,"im":-0.73},{"n":989,"re":-0.07,"im":1},{"n":990,"re":-0.58,"im":-0.82},
{"n":991,"re":0.96,"im":0.28},{"n":992,"re":-0.93,"im":0.38},{"n":993,"re":0.49,"im":-0.87},{"n":994,"re":0.15,"im":0.99},{"n":995,"re":-0.72,"im":-0.7},{"n":996,"re":0.99,"im":0.12},{"n":997,"re":-0.86,"im":0.5},{"n":998,"re":0.39,"im":-0.92},{"n":999,"re":0.23,"im":0.97},{"n":1000,"re":-0.76,"im":-0.65}
],
"lag": [
{"n":0,"re":-0.81,"im":-0.586},{"n":20,"re":-0.748,"im":-0.664},{"n":40,"re":-0.677,"im":-0.736},{"n":60,"re":-0.6,"im":-0.8},{"n":80,"re":-0.517,"im":-0.856},{"n":100,"re":-0.428,"im":-0.904},{"n":120,"re":-0.335,"im":-0.942},{"n":140,"re":-0.239,"im":-0.971},{"n":160,"re":-0.14,"im":-0.99},{"n":180,"re":-0.04,"im":-0.999},
{"n":200,"re":0.06,"im":-0.998},{"n":220,"re":0.16,"im":-0.987},{"n":240,"re":0.258,"im":-0.966},{"n":260,"re":0.354,"im":-0.935},{"n":280,"re":0.446,"im":-0.895},{"n":300,"re":0.534,"im":-0.846},{"n":320,"re":0.616,"im":-0.788},{"n":340,"re":0.692,"im":-0.722},{"n":360,"re":0.761,"im":-0.649},{"n":380,"re":0.822,"im":-0.569},
{"n":400,"re":0.875,"im":-0.484},{"n":420,"re":0.919,"im":-0.394},{"n":440,"re":0.954,"im":-0.299},{"n":460,"re":0.979,"im":-0.202},{"n":480,"re":0.995,"im":-0.103},{"n":500,"re":1,"im":-0.002},{"n":520,"re":0.995,"im":0.098},{"n":540,"re":0.98,"im":0.197},{"n":560,"re":0.956,"im":0.295},{"n":580,"re":0.921,"im":0.389},
{"n":600,"re":0.877,"im":0.48},{"n":620,"re":0.825,"im":0.565},{"n":640,"re":0.764,"im":0.645},{"n":660,"re":0.695,"im":0.719},{"n":680,"re":0.62,"im":0.785},{"n":700,"re":0.538,"im":0.843},{"n":720,"re":0.451,"im":0.893},{"n":740,"re":0.359,"im":0.933},{"n":760,"re":0.263,"im":0.965},{"n":780,"re":0.165,"im":0.986},
{"n":800,"re":0.065,"im":0.998},{"n":820,"re":-0.035,"im":0.999},{"n":840,"re":-0.135,"im":0.991},{"n":860,"re":-0.234,"im":0.972},{"n":880,"re":-0.331,"im":0.944},{"n":900,"re":-0.424,"im":0.906},{"n":920,"re":-0.512,"im":0.859},{"n":940,"re":-0.596,"im":0.803},{"n":960,"re":-0.674,"im":0.739},{"n":980,"re":-0.744,"im":0.668},
{"n":1000,"re":-0.807,"im":0.59}
]
},
"vconcat": [
{
  "width": 934, "height": 221,
  "title": "cpx wfm",
  "data": {"name": "wfm"},
  "layer": [
    {"mark": {"type": "line", "color": "#0000ff", "strokeWidth": 1.1},
     "encoding": {
       "x": {"field": "n", "type": "quantitative", "scale": {"domain": [0, 1000], "nice": false}, "axis": {"values": [0,100,200,300,400,500,600,700,800,900,1000], "title": "n", "grid": true, "labelExpr": "'' + datum.value"}},
       "y": {"field": "re", "type": "quantitative", "scale": {"domain": [-1, 1], "nice": false}, "axis": {"values": [-1,-0.5,0,0.5,1], "title": "x[n]", "grid": true, "labelExpr": "'' + datum.value"}}
     }},
    {"mark": {"type": "line", "color": "#ff0000", "strokeWidth": 1.1},
     "encoding": {
       "x": {"field": "n", "type": "quantitative", "axis": {"orient": "top", "values": [0,100,200,300,400,500,600,700,800,900,1000], "labels": false, "title": null, "grid": false}},
       "y": {"field": "im", "type": "quantitative", "axis": {"orient": "right", "values": [-1,-0.5,0,0.5,1], "labels": false, "title": null, "grid": false}}
     }},
    {"mark": {"type": "line", "color": "#3cbf3c", "strokeWidth": 2},
     "encoding": {
       "x": {"field": "n", "type": "quantitative", "axis": null},
       "y": {"datum": 1, "type": "quantitative", "axis": null}
     }}
  ],
  "resolve": {"axis": {"x": "independent", "y": "independent"}}
},
{
  "width": 934, "height": 221,
  "title": "cpx one-lag prd",
  "data": {"name": "lag"},
  "layer": [
    {"mark": {"type": "line", "color": "#0000ff", "strokeWidth": 3},
     "encoding": {
       "x": {"field": "n", "type": "quantitative", "scale": {"domain": [0, 1000], "nice": false}, "axis": {"values": [0,100,200,300,400,500,600,700,800,900,1000], "title": "n", "grid": true, "labelExpr": "'' + datum.value"}},
       "y": {"field": "re", "type": "quantitative", "scale": {"domain": [-1, 1], "nice": false}, "axis": {"values": [-1,-0.5,0,0.5,1], "title": "x[n]x*[n-1]", "grid": true, "labelExpr": "'' + datum.value"}}
     }},
    {"mark": {"type": "line", "color": "#ff0000", "strokeWidth": 3},
     "encoding": {
       "x": {"field": "n", "type": "quantitative", "axis": {"orient": "top", "values": [0,100,200,300,400,500,600,700,800,900,1000], "labels": false, "title": null, "grid": false}},
       "y": {"field": "im", "type": "quantitative", "axis": {"orient": "right", "values": [-1,-0.5,0,0.5,1], "labels": false, "title": null, "grid": false}}
     }},
    {"mark": {"type": "line", "color": "#5a5430", "strokeWidth": 1.6},
     "encoding": {"x": {"field": "n", "type": "quantitative", "axis": null}, "y": {"field": "re", "type": "quantitative", "axis": null}}},
    {"mark": {"type": "line", "color": "#ffe600", "strokeWidth": 1.4, "strokeDash": [2, 4]},
     "encoding": {"x": {"field": "n", "type": "quantitative", "axis": null}, "y": {"field": "re", "type": "quantitative", "axis": null}}},
    {"mark": {"type": "line", "color": "#5a5430", "strokeWidth": 1.6},
     "encoding": {"x": {"field": "n", "type": "quantitative", "axis": null}, "y": {"field": "im", "type": "quantitative", "axis": null}}},
    {"mark": {"type": "line", "color": "#ffe600", "strokeWidth": 1.4, "strokeDash": [2, 4]},
     "encoding": {"x": {"field": "n", "type": "quantitative", "axis": null}, "y": {"field": "im", "type": "quantitative", "axis": null}}}
  ],
  "resolve": {"axis": {"x": "independent", "y": "independent"}}
}
]
}
